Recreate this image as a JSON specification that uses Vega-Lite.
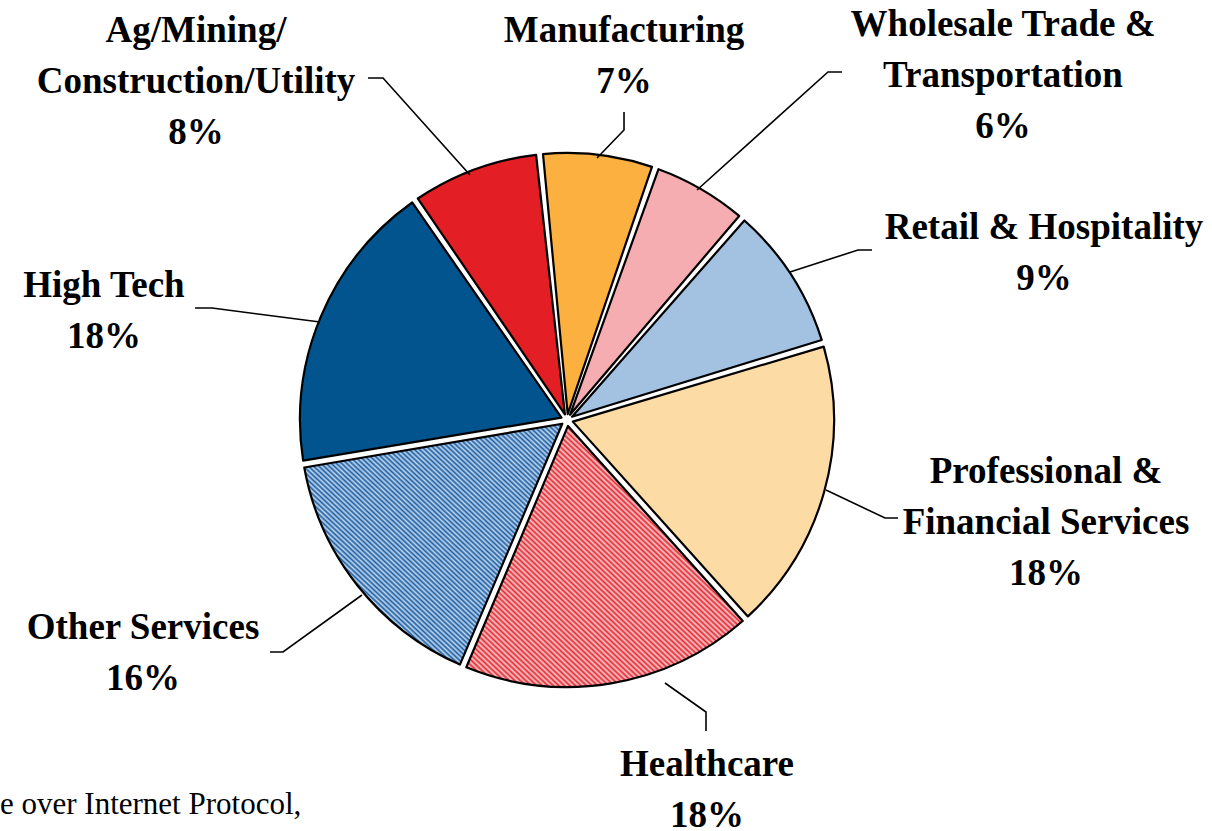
{
  "$schema": "https://vega.github.io/schema/vega-lite/v6.json",
  "width": 1212,
  "height": 831,
  "autosize": {"type": "none"},
  "padding": 0,
  "background": "white",
  "config": {"view": {"stroke": null}},
  "datasets": {
    "slices": [
      {"cat": "Manufacturing", "pct": 7, "ord": 1},
      {"cat": "Wholesale Trade & Transportation", "pct": 6, "ord": 2},
      {"cat": "Retail & Hospitality", "pct": 9, "ord": 3},
      {"cat": "Professional & Financial Services", "pct": 18, "ord": 4},
      {"cat": "Healthcare", "pct": 18, "ord": 5},
      {"cat": "Other Services", "pct": 16, "ord": 6},
      {"cat": "High Tech", "pct": 18, "ord": 7},
      {"cat": "Ag/Mining/Construction/Utility", "pct": 8, "ord": 8}
    ],
    "labels": [
      {"label": "Ag/Mining/\nConstruction/Utility\n8%", "u": -138.95, "v": 145.69},
      {"label": "Manufacturing\n7%", "u": 21.35, "v": 145.69},
      {"label": "Wholesale Trade &\nTransportation\n6%", "u": 163.3, "v": 147.94},
      {"label": "Retail & Hospitality\n9%", "u": 178.65, "v": 71.91},
      {"label": "Professional &\nFinancial Services\n18%", "u": 179.4, "v": -19.48},
      {"label": "Healthcare\n18%", "u": 52.43, "v": -129.21},
      {"label": "Other Services\n16%", "u": -158.8, "v": -77.9},
      {"label": "High Tech\n18%", "u": -173.41, "v": 50.19}
    ],
    "leaders": [
      {"id": "Ag", "k": 1, "u": -74.53, "v": 128.09},
      {"id": "Ag", "k": 2, "u": -68.91, "v": 128.09},
      {"id": "Ag", "k": 3, "u": -36.33, "v": 91.76},
      {"id": "Man", "k": 1, "u": 21.35, "v": 115.36},
      {"id": "Man", "k": 2, "u": 21.35, "v": 108.61},
      {"id": "Man", "k": 3, "u": 11.24, "v": 98.13},
      {"id": "Whl", "k": 1, "u": 103.0, "v": 130.34},
      {"id": "Whl", "k": 2, "u": 97.75, "v": 130.34},
      {"id": "Whl", "k": 3, "u": 48.69, "v": 86.14},
      {"id": "Ret", "k": 1, "u": 114.23, "v": 63.67},
      {"id": "Ret", "k": 2, "u": 108.99, "v": 63.67},
      {"id": "Ret", "k": 3, "u": 83.52, "v": 55.43},
      {"id": "Pro", "k": 1, "u": 123.97, "v": -36.7},
      {"id": "Pro", "k": 2, "u": 119.1, "v": -36.7},
      {"id": "Pro", "k": 3, "u": 97.0, "v": -26.22},
      {"id": "Hea", "k": 1, "u": 52.06, "v": -116.48},
      {"id": "Hea", "k": 2, "u": 52.06, "v": -109.36},
      {"id": "Hea", "k": 3, "u": 36.7, "v": -98.5},
      {"id": "Oth", "k": 1, "u": -111.24, "v": -86.89},
      {"id": "Oth", "k": 2, "u": -106.37, "v": -86.89},
      {"id": "Oth", "k": 3, "u": -76.78, "v": -65.54},
      {"id": "HT", "k": 1, "u": -139.33, "v": 41.95},
      {"id": "HT", "k": 2, "u": -132.96, "v": 41.95},
      {"id": "HT", "k": 3, "u": -92.51, "v": 36.7}
    ],
    "notes": [
      {"note": "e over Internet Protocol,", "u": -212.36, "v": -147.5}
    ]
  },
  "layer": [
    {
      "data": {"name": "slices"},
      "mark": {"type": "arc", "outerRadius": 267, "innerRadius": 6, "padAngle": 0.026, "stroke": "black", "strokeWidth": 2.2, "strokeJoin": "round"},
      "encoding": {
        "x": {"datum": 0, "type": "quantitative", "scale": {"domain": [-212.36, 241.57], "nice": false, "zero": false}, "axis": null},
        "y": {"datum": 0, "type": "quantitative", "scale": {"domain": [-153.93, 157.3], "nice": false, "zero": false}, "axis": null},
        "theta": {"field": "pct", "type": "quantitative", "stack": true, "scale": {"type": "linear", "domain": [0, 100], "range": [-0.103, 6.1802]}},
        "order": {"field": "ord", "type": "quantitative"},
        "fill": {
          "condition": [
            {"test": "datum.cat === 'Healthcare'", "value": {"gradient": "linear", "x1": 0, "y1": 1, "x2": 1, "y2": 0, "stops": [
              {"offset":0,"color":"#E32A33"},{"offset":0.005,"color":"#F9C8CA"},{"offset":0.01,"color":"#E32A33"},{"offset":0.015,"color":"#F9C8CA"},{"offset":0.02,"color":"#E32A33"},{"offset":0.025,"color":"#F9C8CA"},{"offset":0.03,"color":"#E32A33"},{"offset":0.035,"color":"#F9C8CA"},{"offset":0.04,"color":"#E32A33"},{"offset":0.045,"color":"#F9C8CA"},
              {"offset":0.05,"color":"#E32A33"},{"offset":0.055,"color":"#F9C8CA"},{"offset":0.06,"color":"#E32A33"},{"offset":0.065,"color":"#F9C8CA"},{"offset":0.07,"color":"#E32A33"},{"offset":0.075,"color":"#F9C8CA"},{"offset":0.08,"color":"#E32A33"},{"offset":0.085,"color":"#F9C8CA"},{"offset":0.09,"color":"#E32A33"},{"offset":0.095,"color":"#F9C8CA"},
              {"offset":0.1,"color":"#E32A33"},{"offset":0.105,"color":"#F9C8CA"},{"offset":0.11,"color":"#E32A33"},{"offset":0.115,"color":"#F9C8CA"},{"offset":0.12,"color":"#E32A33"},{"offset":0.125,"color":"#F9C8CA"},{"offset":0.13,"color":"#E32A33"},{"offset":0.135,"color":"#F9C8CA"},{"offset":0.14,"color":"#E32A33"},{"offset":0.145,"color":"#F9C8CA"},
              {"offset":0.15,"color":"#E32A33"},{"offset":0.155,"color":"#F9C8CA"},{"offset":0.16,"color":"#E32A33"},{"offset":0.165,"color":"#F9C8CA"},{"offset":0.17,"color":"#E32A33"},{"offset":0.175,"color":"#F9C8CA"},{"offset":0.18,"color":"#E32A33"},{"offset":0.185,"color":"#F9C8CA"},{"offset":0.19,"color":"#E32A33"},{"offset":0.195,"color":"#F9C8CA"},
              {"offset":0.2,"color":"#E32A33"},{"offset":0.205,"color":"#F9C8CA"},{"offset":0.21,"color":"#E32A33"},{"offset":0.215,"color":"#F9C8CA"},{"offset":0.22,"color":"#E32A33"},{"offset":0.225,"color":"#F9C8CA"},{"offset":0.23,"color":"#E32A33"},{"offset":0.235,"color":"#F9C8CA"},{"offset":0.24,"color":"#E32A33"},{"offset":0.245,"color":"#F9C8CA"},
              {"offset":0.25,"color":"#E32A33"},{"offset":0.255,"color":"#F9C8CA"},{"offset":0.26,"color":"#E32A33"},{"offset":0.265,"color":"#F9C8CA"},{"offset":0.27,"color":"#E32A33"},{"offset":0.275,"color":"#F9C8CA"},{"offset":0.28,"color":"#E32A33"},{"offset":0.285,"color":"#F9C8CA"},{"offset":0.29,"color":"#E32A33"},{"offset":0.295,"color":"#F9C8CA"},
              {"offset":0.3,"color":"#E32A33"},{"offset":0.305,"color":"#F9C8CA"},{"offset":0.31,"color":"#E32A33"},{"offset":0.315,"color":"#F9C8CA"},{"offset":0.32,"color":"#E32A33"},{"offset":0.325,"color":"#F9C8CA"},{"offset":0.33,"color":"#E32A33"},{"offset":0.335,"color":"#F9C8CA"},{"offset":0.34,"color":"#E32A33"},{"offset":0.345,"color":"#F9C8CA"},
              {"offset":0.35,"color":"#E32A33"},{"offset":0.355,"color":"#F9C8CA"},{"offset":0.36,"color":"#E32A33"},{"offset":0.365,"color":"#F9C8CA"},{"offset":0.37,"color":"#E32A33"},{"offset":0.375,"color":"#F9C8CA"},{"offset":0.38,"color":"#E32A33"},{"offset":0.385,"color":"#F9C8CA"},{"offset":0.39,"color":"#E32A33"},{"offset":0.395,"color":"#F9C8CA"},
              {"offset":0.4,"color":"#E32A33"},{"offset":0.405,"color":"#F9C8CA"},{"offset":0.41,"color":"#E32A33"},{"offset":0.415,"color":"#F9C8CA"},{"offset":0.42,"color":"#E32A33"},{"offset":0.425,"color":"#F9C8CA"},{"offset":0.43,"color":"#E32A33"},{"offset":0.435,"color":"#F9C8CA"},{"offset":0.44,"color":"#E32A33"},{"offset":0.445,"color":"#F9C8CA"},
              {"offset":0.45,"color":"#E32A33"},{"offset":0.455,"color":"#F9C8CA"},{"offset":0.46,"color":"#E32A33"},{"offset":0.465,"color":"#F9C8CA"},{"offset":0.47,"color":"#E32A33"},{"offset":0.475,"color":"#F9C8CA"},{"offset":0.48,"color":"#E32A33"},{"offset":0.485,"color":"#F9C8CA"},{"offset":0.49,"color":"#E32A33"},{"offset":0.495,"color":"#F9C8CA"},
              {"offset":0.5,"color":"#E32A33"},{"offset":0.505,"color":"#F9C8CA"},{"offset":0.51,"color":"#E32A33"},{"offset":0.515,"color":"#F9C8CA"},{"offset":0.52,"color":"#E32A33"},{"offset":0.525,"color":"#F9C8CA"},{"offset":0.53,"color":"#E32A33"},{"offset":0.535,"color":"#F9C8CA"},{"offset":0.54,"color":"#E32A33"},{"offset":0.545,"color":"#F9C8CA"},
              {"offset":0.55,"color":"#E32A33"},{"offset":0.555,"color":"#F9C8CA"},{"offset":0.56,"color":"#E32A33"},{"offset":0.565,"color":"#F9C8CA"},{"offset":0.57,"color":"#E32A33"},{"offset":0.575,"color":"#F9C8CA"},{"offset":0.58,"color":"#E32A33"},{"offset":0.585,"color":"#F9C8CA"},{"offset":0.59,"color":"#E32A33"},{"offset":0.595,"color":"#F9C8CA"},
              {"offset":0.6,"color":"#E32A33"},{"offset":0.605,"color":"#F9C8CA"},{"offset":0.61,"color":"#E32A33"},{"offset":0.615,"color":"#F9C8CA"},{"offset":0.62,"color":"#E32A33"},{"offset":0.625,"color":"#F9C8CA"},{"offset":0.63,"color":"#E32A33"},{"offset":0.635,"color":"#F9C8CA"},{"offset":0.64,"color":"#E32A33"},{"offset":0.645,"color":"#F9C8CA"},
              {"offset":0.65,"color":"#E32A33"},{"offset":0.655,"color":"#F9C8CA"},{"offset":0.66,"color":"#E32A33"},{"offset":0.665,"color":"#F9C8CA"},{"offset":0.67,"color":"#E32A33"},{"offset":0.675,"color":"#F9C8CA"},{"offset":0.68,"color":"#E32A33"},{"offset":0.685,"color":"#F9C8CA"},{"offset":0.69,"color":"#E32A33"},{"offset":0.695,"color":"#F9C8CA"},
              {"offset":0.7,"color":"#E32A33"},{"offset":0.705,"color":"#F9C8CA"},{"offset":0.71,"color":"#E32A33"},{"offset":0.715,"color":"#F9C8CA"},{"offset":0.72,"color":"#E32A33"},{"offset":0.725,"color":"#F9C8CA"},{"offset":0.73,"color":"#E32A33"},{"offset":0.735,"color":"#F9C8CA"},{"offset":0.74,"color":"#E32A33"},{"offset":0.745,"color":"#F9C8CA"},
              {"offset":0.75,"color":"#E32A33"},{"offset":0.755,"color":"#F9C8CA"},{"offset":0.76,"color":"#E32A33"},{"offset":0.765,"color":"#F9C8CA"},{"offset":0.77,"color":"#E32A33"},{"offset":0.775,"color":"#F9C8CA"},{"offset":0.78,"color":"#E32A33"},{"offset":0.785,"color":"#F9C8CA"},{"offset":0.79,"color":"#E32A33"},{"offset":0.795,"color":"#F9C8CA"},
              {"offset":0.8,"color":"#E32A33"},{"offset":0.805,"color":"#F9C8CA"},{"offset":0.81,"color":"#E32A33"},{"offset":0.815,"color":"#F9C8CA"},{"offset":0.82,"color":"#E32A33"},{"offset":0.825,"color":"#F9C8CA"},{"offset":0.83,"color":"#E32A33"},{"offset":0.835,"color":"#F9C8CA"},{"offset":0.84,"color":"#E32A33"},{"offset":0.845,"color":"#F9C8CA"},
              {"offset":0.85,"color":"#E32A33"},{"offset":0.855,"color":"#F9C8CA"},{"offset":0.86,"color":"#E32A33"},{"offset":0.865,"color":"#F9C8CA"},{"offset":0.87,"color":"#E32A33"},{"offset":0.875,"color":"#F9C8CA"},{"offset":0.88,"color":"#E32A33"},{"offset":0.885,"color":"#F9C8CA"},{"offset":0.89,"color":"#E32A33"},{"offset":0.895,"color":"#F9C8CA"},
              {"offset":0.9,"color":"#E32A33"},{"offset":0.905,"color":"#F9C8CA"},{"offset":0.91,"color":"#E32A33"},{"offset":0.915,"color":"#F9C8CA"},{"offset":0.92,"color":"#E32A33"},{"offset":0.925,"color":"#F9C8CA"},{"offset":0.93,"color":"#E32A33"},{"offset":0.935,"color":"#F9C8CA"},{"offset":0.94,"color":"#E32A33"},{"offset":0.945,"color":"#F9C8CA"},
              {"offset":0.95,"color":"#E32A33"},{"offset":0.955,"color":"#F9C8CA"},{"offset":0.96,"color":"#E32A33"},{"offset":0.965,"color":"#F9C8CA"},{"offset":0.97,"color":"#E32A33"},{"offset":0.975,"color":"#F9C8CA"},{"offset":0.98,"color":"#E32A33"},{"offset":0.985,"color":"#F9C8CA"},{"offset":0.99,"color":"#E32A33"},{"offset":0.995,"color":"#F9C8CA"},
              {"offset":1,"color":"#E32A33"}
            ]}},
            {"test": "datum.cat === 'Other Services'", "value": {"gradient": "linear", "x1": 0, "y1": 1, "x2": 1, "y2": 0, "stops": [
              {"offset":0,"color":"#1A5EA5"},{"offset":0.005,"color":"#C4D7EC"},{"offset":0.01,"color":"#1A5EA5"},{"offset":0.015,"color":"#C4D7EC"},{"offset":0.02,"color":"#1A5EA5"},{"offset":0.025,"color":"#C4D7EC"},{"offset":0.03,"color":"#1A5EA5"},{"offset":0.035,"color":"#C4D7EC"},{"offset":0.04,"color":"#1A5EA5"},{"offset":0.045,"color":"#C4D7EC"},
              {"offset":0.05,"color":"#1A5EA5"},{"offset":0.055,"color":"#C4D7EC"},{"offset":0.06,"color":"#1A5EA5"},{"offset":0.065,"color":"#C4D7EC"},{"offset":0.07,"color":"#1A5EA5"},{"offset":0.075,"color":"#C4D7EC"},{"offset":0.08,"color":"#1A5EA5"},{"offset":0.085,"color":"#C4D7EC"},{"offset":0.09,"color":"#1A5EA5"},{"offset":0.095,"color":"#C4D7EC"},
              {"offset":0.1,"color":"#1A5EA5"},{"offset":0.105,"color":"#C4D7EC"},{"offset":0.11,"color":"#1A5EA5"},{"offset":0.115,"color":"#C4D7EC"},{"offset":0.12,"color":"#1A5EA5"},{"offset":0.125,"color":"#C4D7EC"},{"offset":0.13,"color":"#1A5EA5"},{"offset":0.135,"color":"#C4D7EC"},{"offset":0.14,"color":"#1A5EA5"},{"offset":0.145,"color":"#C4D7EC"},
              {"offset":0.15,"color":"#1A5EA5"},{"offset":0.155,"color":"#C4D7EC"},{"offset":0.16,"color":"#1A5EA5"},{"offset":0.165,"color":"#C4D7EC"},{"offset":0.17,"color":"#1A5EA5"},{"offset":0.175,"color":"#C4D7EC"},{"offset":0.18,"color":"#1A5EA5"},{"offset":0.185,"color":"#C4D7EC"},{"offset":0.19,"color":"#1A5EA5"},{"offset":0.195,"color":"#C4D7EC"},
              {"offset":0.2,"color":"#1A5EA5"},{"offset":0.205,"color":"#C4D7EC"},{"offset":0.21,"color":"#1A5EA5"},{"offset":0.215,"color":"#C4D7EC"},{"offset":0.22,"color":"#1A5EA5"},{"offset":0.225,"color":"#C4D7EC"},{"offset":0.23,"color":"#1A5EA5"},{"offset":0.235,"color":"#C4D7EC"},{"offset":0.24,"color":"#1A5EA5"},{"offset":0.245,"color":"#C4D7EC"},
              {"offset":0.25,"color":"#1A5EA5"},{"offset":0.255,"color":"#C4D7EC"},{"offset":0.26,"color":"#1A5EA5"},{"offset":0.265,"color":"#C4D7EC"},{"offset":0.27,"color":"#1A5EA5"},{"offset":0.275,"color":"#C4D7EC"},{"offset":0.28,"color":"#1A5EA5"},{"offset":0.285,"color":"#C4D7EC"},{"offset":0.29,"color":"#1A5EA5"},{"offset":0.295,"color":"#C4D7EC"},
              {"offset":0.3,"color":"#1A5EA5"},{"offset":0.305,"color":"#C4D7EC"},{"offset":0.31,"color":"#1A5EA5"},{"offset":0.315,"color":"#C4D7EC"},{"offset":0.32,"color":"#1A5EA5"},{"offset":0.325,"color":"#C4D7EC"},{"offset":0.33,"color":"#1A5EA5"},{"offset":0.335,"color":"#C4D7EC"},{"offset":0.34,"color":"#1A5EA5"},{"offset":0.345,"color":"#C4D7EC"},
              {"offset":0.35,"color":"#1A5EA5"},{"offset":0.355,"color":"#C4D7EC"},{"offset":0.36,"color":"#1A5EA5"},{"offset":0.365,"color":"#C4D7EC"},{"offset":0.37,"color":"#1A5EA5"},{"offset":0.375,"color":"#C4D7EC"},{"offset":0.38,"color":"#1A5EA5"},{"offset":0.385,"color":"#C4D7EC"},{"offset":0.39,"color":"#1A5EA5"},{"offset":0.395,"color":"#C4D7EC"},
              {"offset":0.4,"color":"#1A5EA5"},{"offset":0.405,"color":"#C4D7EC"},{"offset":0.41,"color":"#1A5EA5"},{"offset":0.415,"color":"#C4D7EC"},{"offset":0.42,"color":"#1A5EA5"},{"offset":0.425,"color":"#C4D7EC"},{"offset":0.43,"color":"#1A5EA5"},{"offset":0.435,"color":"#C4D7EC"},{"offset":0.44,"color":"#1A5EA5"},{"offset":0.445,"color":"#C4D7EC"},
              {"offset":0.45,"color":"#1A5EA5"},{"offset":0.455,"color":"#C4D7EC"},{"offset":0.46,"color":"#1A5EA5"},{"offset":0.465,"color":"#C4D7EC"},{"offset":0.47,"color":"#1A5EA5"},{"offset":0.475,"color":"#C4D7EC"},{"offset":0.48,"color":"#1A5EA5"},{"offset":0.485,"color":"#C4D7EC"},{"offset":0.49,"color":"#1A5EA5"},{"offset":0.495,"color":"#C4D7EC"},
              {"offset":0.5,"color":"#1A5EA5"},{"offset":0.505,"color":"#C4D7EC"},{"offset":0.51,"color":"#1A5EA5"},{"offset":0.515,"color":"#C4D7EC"},{"offset":0.52,"color":"#1A5EA5"},{"offset":0.525,"color":"#C4D7EC"},{"offset":0.53,"color":"#1A5EA5"},{"offset":0.535,"color":"#C4D7EC"},{"offset":0.54,"color":"#1A5EA5"},{"offset":0.545,"color":"#C4D7EC"},
              {"offset":0.55,"color":"#1A5EA5"},{"offset":0.555,"color":"#C4D7EC"},{"offset":0.56,"color":"#1A5EA5"},{"offset":0.565,"color":"#C4D7EC"},{"offset":0.57,"color":"#1A5EA5"},{"offset":0.575,"color":"#C4D7EC"},{"offset":0.58,"color":"#1A5EA5"},{"offset":0.585,"color":"#C4D7EC"},{"offset":0.59,"color":"#1A5EA5"},{"offset":0.595,"color":"#C4D7EC"},
              {"offset":0.6,"color":"#1A5EA5"},{"offset":0.605,"color":"#C4D7EC"},{"offset":0.61,"color":"#1A5EA5"},{"offset":0.615,"color":"#C4D7EC"},{"offset":0.62,"color":"#1A5EA5"},{"offset":0.625,"color":"#C4D7EC"},{"offset":0.63,"color":"#1A5EA5"},{"offset":0.635,"color":"#C4D7EC"},{"offset":0.64,"color":"#1A5EA5"},{"offset":0.645,"color":"#C4D7EC"},
              {"offset":0.65,"color":"#1A5EA5"},{"offset":0.655,"color":"#C4D7EC"},{"offset":0.66,"color":"#1A5EA5"},{"offset":0.665,"color":"#C4D7EC"},{"offset":0.67,"color":"#1A5EA5"},{"offset":0.675,"color":"#C4D7EC"},{"offset":0.68,"color":"#1A5EA5"},{"offset":0.685,"color":"#C4D7EC"},{"offset":0.69,"color":"#1A5EA5"},{"offset":0.695,"color":"#C4D7EC"},
              {"offset":0.7,"color":"#1A5EA5"},{"offset":0.705,"color":"#C4D7EC"},{"offset":0.71,"color":"#1A5EA5"},{"offset":0.715,"color":"#C4D7EC"},{"offset":0.72,"color":"#1A5EA5"},{"offset":0.725,"color":"#C4D7EC"},{"offset":0.73,"color":"#1A5EA5"},{"offset":0.735,"color":"#C4D7EC"},{"offset":0.74,"color":"#1A5EA5"},{"offset":0.745,"color":"#C4D7EC"},
              {"offset":0.75,"color":"#1A5EA5"},{"offset":0.755,"color":"#C4D7EC"},{"offset":0.76,"color":"#1A5EA5"},{"offset":0.765,"color":"#C4D7EC"},{"offset":0.77,"color":"#1A5EA5"},{"offset":0.775,"color":"#C4D7EC"},{"offset":0.78,"color":"#1A5EA5"},{"offset":0.785,"color":"#C4D7EC"},{"offset":0.79,"color":"#1A5EA5"},{"offset":0.795,"color":"#C4D7EC"},
              {"offset":0.8,"color":"#1A5EA5"},{"offset":0.805,"color":"#C4D7EC"},{"offset":0.81,"color":"#1A5EA5"},{"offset":0.815,"color":"#C4D7EC"},{"offset":0.82,"color":"#1A5EA5"},{"offset":0.825,"color":"#C4D7EC"},{"offset":0.83,"color":"#1A5EA5"},{"offset":0.835,"color":"#C4D7EC"},{"offset":0.84,"color":"#1A5EA5"},{"offset":0.845,"color":"#C4D7EC"},
              {"offset":0.85,"color":"#1A5EA5"},{"offset":0.855,"color":"#C4D7EC"},{"offset":0.86,"color":"#1A5EA5"},{"offset":0.865,"color":"#C4D7EC"},{"offset":0.87,"color":"#1A5EA5"},{"offset":0.875,"color":"#C4D7EC"},{"offset":0.88,"color":"#1A5EA5"},{"offset":0.885,"color":"#C4D7EC"},{"offset":0.89,"color":"#1A5EA5"},{"offset":0.895,"color":"#C4D7EC"},
              {"offset":0.9,"color":"#1A5EA5"},{"offset":0.905,"color":"#C4D7EC"},{"offset":0.91,"color":"#1A5EA5"},{"offset":0.915,"color":"#C4D7EC"},{"offset":0.92,"color":"#1A5EA5"},{"offset":0.925,"color":"#C4D7EC"},{"offset":0.93,"color":"#1A5EA5"},{"offset":0.935,"color":"#C4D7EC"},{"offset":0.94,"color":"#1A5EA5"},{"offset":0.945,"color":"#C4D7EC"},
              {"offset":0.95,"color":"#1A5EA5"},{"offset":0.955,"color":"#C4D7EC"},{"offset":0.96,"color":"#1A5EA5"},{"offset":0.965,"color":"#C4D7EC"},{"offset":0.97,"color":"#1A5EA5"},{"offset":0.975,"color":"#C4D7EC"},{"offset":0.98,"color":"#1A5EA5"},{"offset":0.985,"color":"#C4D7EC"},{"offset":0.99,"color":"#1A5EA5"},{"offset":0.995,"color":"#C4D7EC"},
              {"offset":1,"color":"#1A5EA5"}
            ]}}
          ],
          "field": "cat", "type": "nominal", "legend": null,
          "scale": {
            "domain": ["Manufacturing", "Wholesale Trade & Transportation", "Retail & Hospitality", "Professional & Financial Services", "Healthcare", "Other Services", "High Tech", "Ag/Mining/Construction/Utility"],
            "range": ["#FBB040", "#F6ADB1", "#A3C1E0", "#FDDBA4", "#F07E83", "#6F9BCA", "#02548F", "#E31E25"]
          }
        }
      }
    },
    {
      "data": {"name": "leaders"},
      "mark": {"type": "line", "color": "black", "strokeWidth": 1.6},
      "encoding": {
        "x": {"field": "u", "type": "quantitative", "scale": {"domain": [-212.36, 241.57], "nice": false, "zero": false}, "axis": null},
        "y": {"field": "v", "type": "quantitative", "scale": {"domain": [-153.93, 157.3], "nice": false, "zero": false}, "axis": null},
        "detail": {"field": "id", "type": "nominal"},
        "order": {"field": "k", "type": "quantitative"}
      }
    },
    {
      "data": {"name": "labels"},
      "mark": {"type": "text", "font": "Liberation Serif", "fontWeight": "bold", "fontSize": 37, "lineHeight": 51, "lineBreak": "\n", "align": "center", "baseline": "middle", "color": "black"},
      "encoding": {
        "x": {"field": "u", "type": "quantitative", "axis": null},
        "y": {"field": "v", "type": "quantitative", "axis": null},
        "text": {"field": "label", "type": "nominal"}
      }
    },
    {
      "data": {"name": "notes"},
      "mark": {"type": "text", "font": "Liberation Serif", "fontSize": 31, "align": "left", "baseline": "alphabetic", "color": "black"},
      "encoding": {
        "x": {"field": "u", "type": "quantitative", "axis": null},
        "y": {"field": "v", "type": "quantitative", "axis": null},
        "text": {"field": "note", "type": "nominal"}
      }
    }
  ]
}
